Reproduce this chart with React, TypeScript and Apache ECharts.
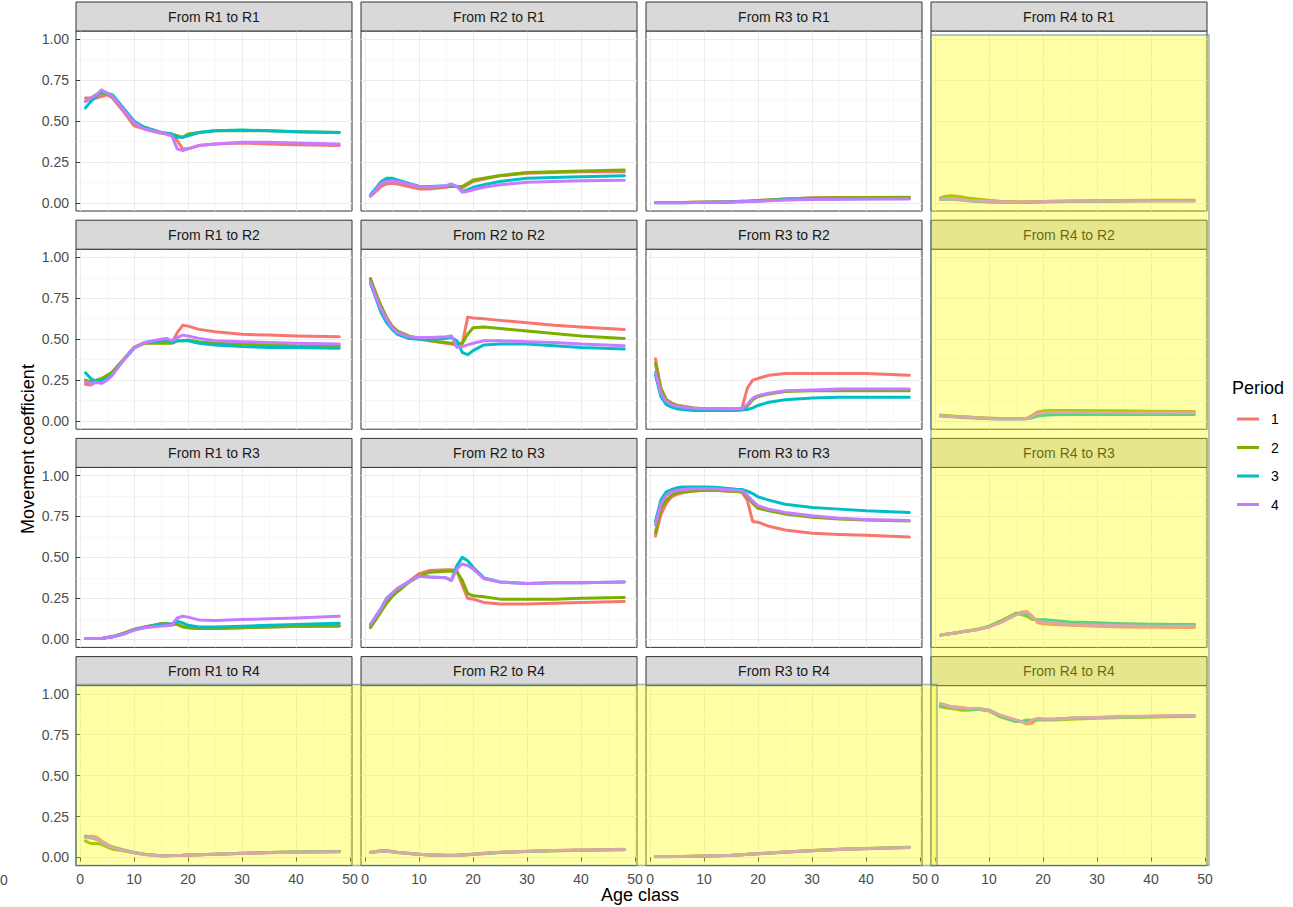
import React, { useEffect, useRef } from 'react';
import * as echarts from 'echarts';

// ---------------- data ----------------
const AGES = [1, 2, 3, 4, 5, 6, 8, 10, 12, 15, 16, 17, 18, 19, 20, 22, 25, 30, 35, 40, 48];
const REGIONS = ['R1', 'R2', 'R3', 'R4'];
const PERIODS = ['1', '2', '3', '4'];
const PERIOD_COLORS = ['#F8766D', '#7CAE00', '#00BFC4', '#C77CFF'];
const X_TICKS = [0, 10, 20, 30, 40, 50];
const Y_TICKS = [0, 0.25, 0.5, 0.75, 1];

// each panel: [period 1, period 2, period 3, period 4], values at AGES
const fromR1toR1 = [
  [0.64, 0.64, 0.64, 0.65, 0.66, 0.64, 0.56, 0.47, 0.45, 0.425, 0.42, 0.41, 0.38, 0.33, 0.33, 0.35, 0.36, 0.365, 0.36, 0.355, 0.35],
  [0.62, 0.64, 0.66, 0.67, 0.665, 0.65, 0.57, 0.49, 0.46, 0.43, 0.425, 0.42, 0.41, 0.40, 0.42, 0.43, 0.44, 0.44, 0.44, 0.435, 0.43],
  [0.58, 0.62, 0.65, 0.68, 0.67, 0.66, 0.58, 0.50, 0.46, 0.43, 0.425, 0.42, 0.40, 0.40, 0.41, 0.43, 0.44, 0.445, 0.44, 0.435, 0.43],
  [0.62, 0.64, 0.66, 0.69, 0.67, 0.65, 0.57, 0.49, 0.45, 0.43, 0.42, 0.41, 0.33, 0.32, 0.33, 0.35, 0.36, 0.37, 0.37, 0.365, 0.36],
];
const fromR2toR1 = [
  [0.04, 0.07, 0.10, 0.115, 0.12, 0.115, 0.10, 0.085, 0.085, 0.095, 0.10, 0.10, 0.09, 0.11, 0.13, 0.145, 0.165, 0.18, 0.185, 0.19, 0.19],
  [0.045, 0.08, 0.12, 0.135, 0.14, 0.135, 0.115, 0.10, 0.095, 0.10, 0.10, 0.10, 0.10, 0.12, 0.14, 0.15, 0.167, 0.185, 0.19, 0.195, 0.20],
  [0.05, 0.09, 0.13, 0.15, 0.15, 0.14, 0.12, 0.10, 0.10, 0.105, 0.11, 0.10, 0.07, 0.08, 0.095, 0.11, 0.13, 0.15, 0.155, 0.16, 0.165],
  [0.045, 0.08, 0.12, 0.13, 0.135, 0.13, 0.115, 0.10, 0.095, 0.105, 0.115, 0.10, 0.065, 0.07, 0.08, 0.095, 0.11, 0.125, 0.13, 0.135, 0.138],
];
const fromR3toR1 = [
  [0.002, 0.002, 0.002, 0.002, 0.002, 0.002, 0.003, 0.004, 0.005, 0.007, 0.008, 0.009, 0.01, 0.012, 0.014, 0.018, 0.024, 0.03, 0.032, 0.033, 0.034],
  [0.002, 0.002, 0.002, 0.002, 0.002, 0.002, 0.003, 0.004, 0.005, 0.007, 0.008, 0.009, 0.01, 0.012, 0.014, 0.018, 0.024, 0.029, 0.031, 0.032, 0.033],
  [0.001, 0.001, 0.001, 0.001, 0.001, 0.001, 0.002, 0.003, 0.004, 0.005, 0.006, 0.007, 0.008, 0.009, 0.011, 0.014, 0.018, 0.022, 0.024, 0.025, 0.026],
  [0.001, 0.001, 0.001, 0.001, 0.001, 0.001, 0.002, 0.003, 0.004, 0.005, 0.006, 0.007, 0.008, 0.009, 0.01, 0.013, 0.017, 0.02, 0.022, 0.023, 0.024],
];
const fromR4toR1 = [
  [0.02, 0.025, 0.025, 0.02, 0.018, 0.015, 0.01, 0.007, 0.005, 0.004, 0.004, 0.004, 0.005, 0.006, 0.007, 0.008, 0.009, 0.01, 0.011, 0.012, 0.012],
  [0.03, 0.04, 0.043, 0.04, 0.035, 0.03, 0.022, 0.015, 0.01, 0.007, 0.006, 0.006, 0.006, 0.007, 0.008, 0.009, 0.011, 0.013, 0.014, 0.015, 0.015],
  [0.02, 0.022, 0.022, 0.02, 0.017, 0.013, 0.008, 0.005, 0.003, 0.002, 0.002, 0.002, 0.003, 0.004, 0.005, 0.006, 0.008, 0.01, 0.011, 0.012, 0.012],
  [0.02, 0.025, 0.025, 0.022, 0.019, 0.016, 0.011, 0.008, 0.006, 0.005, 0.005, 0.005, 0.006, 0.007, 0.008, 0.009, 0.01, 0.011, 0.012, 0.013, 0.013],
];
const fromR1toR2 = [
  [0.225, 0.22, 0.24, 0.255, 0.275, 0.30, 0.375, 0.45, 0.48, 0.485, 0.485, 0.48, 0.54, 0.585, 0.58, 0.56, 0.545, 0.53, 0.525, 0.52, 0.515],
  [0.25, 0.24, 0.25, 0.26, 0.28, 0.30, 0.375, 0.45, 0.475, 0.475, 0.475, 0.475, 0.49, 0.49, 0.495, 0.485, 0.475, 0.47, 0.465, 0.46, 0.458],
  [0.295, 0.26, 0.24, 0.245, 0.26, 0.285, 0.37, 0.445, 0.48, 0.49, 0.495, 0.48, 0.49, 0.49, 0.49, 0.475, 0.465, 0.455, 0.45, 0.45, 0.445],
  [0.24, 0.23, 0.235, 0.23, 0.25, 0.28, 0.37, 0.445, 0.48, 0.50, 0.505, 0.49, 0.51, 0.525, 0.52, 0.505, 0.49, 0.485, 0.48, 0.475, 0.47],
];
const fromR2toR2 = [
  [0.87, 0.78, 0.70, 0.63, 0.58, 0.55, 0.52, 0.50, 0.49, 0.475, 0.47, 0.465, 0.47, 0.635, 0.63, 0.625, 0.615, 0.60, 0.585, 0.575, 0.56],
  [0.87, 0.78, 0.70, 0.63, 0.58, 0.55, 0.52, 0.505, 0.49, 0.48, 0.475, 0.475, 0.475, 0.53, 0.57, 0.575, 0.565, 0.55, 0.535, 0.52, 0.505],
  [0.84, 0.75, 0.66, 0.60, 0.56, 0.53, 0.505, 0.50, 0.50, 0.505, 0.51, 0.49, 0.42, 0.405, 0.43, 0.465, 0.47, 0.47, 0.46, 0.45, 0.44],
  [0.85, 0.76, 0.68, 0.62, 0.57, 0.54, 0.515, 0.51, 0.51, 0.515, 0.52, 0.45, 0.455, 0.465, 0.475, 0.49, 0.49, 0.485, 0.48, 0.47, 0.46],
];
const fromR3toR2 = [
  [0.38, 0.20, 0.13, 0.11, 0.095, 0.09, 0.08, 0.075, 0.075, 0.073, 0.073, 0.075, 0.20, 0.25, 0.26, 0.28, 0.29, 0.29, 0.29, 0.29, 0.28],
  [0.35, 0.20, 0.13, 0.11, 0.095, 0.09, 0.08, 0.075, 0.075, 0.073, 0.073, 0.075, 0.09, 0.13, 0.15, 0.165, 0.18, 0.185, 0.185, 0.185, 0.185],
  [0.28, 0.15, 0.10, 0.085, 0.075, 0.07, 0.065, 0.065, 0.065, 0.065, 0.065, 0.068, 0.07, 0.08, 0.095, 0.115, 0.13, 0.14, 0.145, 0.145, 0.145],
  [0.30, 0.17, 0.12, 0.10, 0.09, 0.085, 0.078, 0.075, 0.075, 0.073, 0.073, 0.075, 0.10, 0.14, 0.155, 0.17, 0.185, 0.19, 0.195, 0.195, 0.195],
];
const fromR4toR2 = [
  [0.035, 0.033, 0.03, 0.028, 0.026, 0.024, 0.02, 0.017, 0.015, 0.015, 0.015, 0.017, 0.035, 0.055, 0.062, 0.065, 0.064, 0.063, 0.062, 0.06, 0.058],
  [0.035, 0.033, 0.03, 0.028, 0.026, 0.024, 0.02, 0.017, 0.015, 0.015, 0.015, 0.016, 0.03, 0.05, 0.058, 0.062, 0.062, 0.06, 0.058, 0.056, 0.055],
  [0.03, 0.028, 0.026, 0.024, 0.022, 0.02, 0.017, 0.014, 0.013, 0.013, 0.013, 0.014, 0.02, 0.03, 0.035, 0.038, 0.04, 0.04, 0.04, 0.04, 0.04],
  [0.033, 0.031, 0.028, 0.026, 0.024, 0.022, 0.018, 0.015, 0.014, 0.014, 0.014, 0.015, 0.028, 0.045, 0.05, 0.053, 0.053, 0.052, 0.051, 0.05, 0.05],
];
const fromR1toR3 = [
  [0.005, 0.005, 0.004, 0.005, 0.01, 0.015, 0.035, 0.06, 0.075, 0.095, 0.095, 0.09, 0.09, 0.08, 0.072, 0.066, 0.065, 0.07, 0.075, 0.078, 0.08],
  [0.005, 0.005, 0.004, 0.005, 0.01, 0.015, 0.035, 0.06, 0.075, 0.095, 0.095, 0.09, 0.09, 0.075, 0.07, 0.065, 0.065, 0.07, 0.075, 0.08, 0.082],
  [0.005, 0.005, 0.004, 0.005, 0.01, 0.015, 0.033, 0.058, 0.073, 0.09, 0.093, 0.095, 0.11, 0.10, 0.085, 0.075, 0.075, 0.08, 0.085, 0.09, 0.098],
  [0.005, 0.005, 0.004, 0.005, 0.01, 0.014, 0.03, 0.055, 0.07, 0.08, 0.083, 0.085, 0.13, 0.14, 0.135, 0.118, 0.115, 0.12, 0.125, 0.13, 0.14],
];
const fromR2toR3 = [
  [0.08, 0.13, 0.18, 0.23, 0.27, 0.30, 0.35, 0.40, 0.42, 0.425, 0.425, 0.42, 0.33, 0.25, 0.245, 0.225, 0.215, 0.215, 0.22, 0.225, 0.23],
  [0.07, 0.12, 0.17, 0.22, 0.26, 0.29, 0.345, 0.385, 0.41, 0.415, 0.415, 0.41, 0.36, 0.28, 0.265, 0.26, 0.245, 0.245, 0.245, 0.25, 0.255],
  [0.09, 0.14, 0.19, 0.25, 0.28, 0.31, 0.35, 0.385, 0.38, 0.375, 0.36, 0.45, 0.50, 0.48, 0.44, 0.375, 0.35, 0.34, 0.345, 0.345, 0.35],
  [0.09, 0.14, 0.19, 0.25, 0.28, 0.31, 0.35, 0.385, 0.38, 0.375, 0.36, 0.43, 0.46, 0.45, 0.43, 0.37, 0.35, 0.34, 0.345, 0.345, 0.35],
];
const fromR3toR3 = [
  [0.63, 0.76, 0.83, 0.87, 0.885, 0.895, 0.905, 0.91, 0.91, 0.905, 0.903, 0.90, 0.85, 0.72, 0.715, 0.69, 0.667, 0.648, 0.64, 0.635, 0.625],
  [0.65, 0.80, 0.85, 0.88, 0.895, 0.90, 0.905, 0.91, 0.91, 0.905, 0.903, 0.90, 0.87, 0.83, 0.80, 0.785, 0.765, 0.745, 0.735, 0.728, 0.722],
  [0.72, 0.85, 0.90, 0.915, 0.925, 0.93, 0.93, 0.93, 0.928, 0.92, 0.917, 0.915, 0.905, 0.89, 0.87, 0.85, 0.825, 0.805, 0.795, 0.785, 0.775],
  [0.70, 0.83, 0.88, 0.90, 0.91, 0.915, 0.92, 0.92, 0.92, 0.912, 0.91, 0.908, 0.88, 0.845, 0.815, 0.795, 0.775, 0.755, 0.74, 0.732, 0.725],
];
const fromR4toR3 = [
  [0.025, 0.03, 0.035, 0.04, 0.045, 0.05, 0.06, 0.075, 0.10, 0.15, 0.165, 0.17, 0.14, 0.10, 0.095, 0.09, 0.085, 0.08, 0.075, 0.073, 0.072],
  [0.025, 0.03, 0.035, 0.04, 0.045, 0.05, 0.062, 0.08, 0.11, 0.16, 0.15, 0.14, 0.12, 0.12, 0.115, 0.11, 0.10, 0.095, 0.092, 0.09, 0.09],
  [0.025, 0.03, 0.035, 0.04, 0.045, 0.05, 0.06, 0.078, 0.105, 0.155, 0.16, 0.15, 0.13, 0.115, 0.12, 0.115, 0.105, 0.10, 0.095, 0.092, 0.09],
  [0.025, 0.03, 0.035, 0.04, 0.045, 0.05, 0.06, 0.075, 0.10, 0.15, 0.16, 0.165, 0.135, 0.11, 0.105, 0.10, 0.09, 0.085, 0.082, 0.08, 0.08],
];
const fromR1toR4 = [
  [0.125, 0.13, 0.125, 0.10, 0.08, 0.065, 0.045, 0.03, 0.02, 0.01, 0.01, 0.011, 0.012, 0.013, 0.015, 0.017, 0.02, 0.025, 0.03, 0.033, 0.035],
  [0.10, 0.085, 0.085, 0.08, 0.065, 0.05, 0.04, 0.028, 0.018, 0.01, 0.01, 0.011, 0.012, 0.013, 0.015, 0.017, 0.02, 0.025, 0.03, 0.033, 0.036],
  [0.13, 0.12, 0.11, 0.095, 0.075, 0.06, 0.045, 0.03, 0.02, 0.01, 0.01, 0.011, 0.012, 0.013, 0.015, 0.017, 0.02, 0.025, 0.03, 0.033, 0.036],
  [0.12, 0.12, 0.115, 0.095, 0.075, 0.06, 0.042, 0.028, 0.018, 0.009, 0.009, 0.01, 0.011, 0.012, 0.014, 0.016, 0.019, 0.024, 0.028, 0.031, 0.034],
];
const fromR2toR4 = [
  [0.03, 0.035, 0.04, 0.04, 0.035, 0.03, 0.025, 0.02, 0.015, 0.013, 0.013, 0.014, 0.016, 0.018, 0.02, 0.025, 0.032, 0.038, 0.043, 0.046, 0.05],
  [0.032, 0.037, 0.042, 0.042, 0.037, 0.032, 0.026, 0.02, 0.016, 0.013, 0.013, 0.014, 0.016, 0.018, 0.02, 0.025, 0.03, 0.036, 0.041, 0.044, 0.048],
  [0.03, 0.035, 0.038, 0.038, 0.034, 0.03, 0.024, 0.019, 0.015, 0.012, 0.012, 0.013, 0.015, 0.017, 0.019, 0.023, 0.03, 0.036, 0.04, 0.044, 0.047],
  [0.03, 0.034, 0.038, 0.038, 0.034, 0.03, 0.024, 0.019, 0.015, 0.012, 0.012, 0.013, 0.015, 0.017, 0.019, 0.024, 0.031, 0.037, 0.042, 0.045, 0.049],
];
const fromR3toR4 = [
  [0.005, 0.005, 0.005, 0.005, 0.006, 0.006, 0.007, 0.008, 0.01, 0.013, 0.015, 0.017, 0.019, 0.021, 0.023, 0.027, 0.033, 0.042, 0.05, 0.055, 0.062],
  [0.005, 0.005, 0.005, 0.005, 0.006, 0.006, 0.007, 0.008, 0.01, 0.013, 0.015, 0.017, 0.019, 0.021, 0.023, 0.027, 0.033, 0.042, 0.05, 0.055, 0.062],
  [0.004, 0.004, 0.004, 0.004, 0.005, 0.005, 0.006, 0.007, 0.009, 0.012, 0.014, 0.016, 0.018, 0.02, 0.022, 0.026, 0.032, 0.04, 0.048, 0.053, 0.06],
  [0.005, 0.005, 0.005, 0.005, 0.006, 0.006, 0.007, 0.008, 0.01, 0.013, 0.015, 0.017, 0.019, 0.021, 0.023, 0.027, 0.033, 0.041, 0.049, 0.055, 0.061],
];
const fromR4toR4 = [
  [0.94, 0.93, 0.92, 0.92, 0.915, 0.91, 0.91, 0.90, 0.87, 0.835, 0.83, 0.815, 0.82, 0.85, 0.845, 0.845, 0.85, 0.855, 0.86, 0.862, 0.868],
  [0.92, 0.915, 0.91, 0.905, 0.90, 0.90, 0.905, 0.895, 0.86, 0.83, 0.83, 0.84, 0.835, 0.84, 0.84, 0.84, 0.845, 0.85, 0.855, 0.858, 0.862],
  [0.93, 0.925, 0.915, 0.91, 0.91, 0.905, 0.905, 0.90, 0.865, 0.83, 0.83, 0.835, 0.84, 0.845, 0.845, 0.845, 0.85, 0.855, 0.858, 0.86, 0.865],
  [0.94, 0.93, 0.92, 0.915, 0.915, 0.91, 0.91, 0.90, 0.87, 0.84, 0.83, 0.82, 0.84, 0.85, 0.845, 0.845, 0.85, 0.855, 0.86, 0.862, 0.868],
];

// rows = destination region, columns = origin region
const PANEL_DATA = [
  [fromR1toR1, fromR2toR1, fromR3toR1, fromR4toR1],
  [fromR1toR2, fromR2toR2, fromR3toR2, fromR4toR2],
  [fromR1toR3, fromR2toR3, fromR3toR3, fromR4toR3],
  [fromR1toR4, fromR2toR4, fromR3toR4, fromR4toR4],
];

// ---------------- layout ----------------
const W = 1293;
const H = 907;
const PANEL_LEFT0 = 76;
const PANEL_DX = 285;
const PANEL_W = 276;
const PANEL_TOP0 = 31;
const PANEL_DY = 218.2;
const PANEL_H = 180;
const STRIP_H = 29;
const FONT = '"Liberation Sans", Arial, Helvetica, sans-serif';

const colLeft = (c: number) => PANEL_LEFT0 + c * PANEL_DX;
const rowTop = (r: number) => PANEL_TOP0 + r * PANEL_DY;

function buildOption() {
  const grid: any[] = [];
  const xAxis: any[] = [];
  const yAxis: any[] = [];
  const series: any[] = [];
  const graphic: any[] = [];

  for (let r = 0; r < 4; r++) {
    for (let c = 0; c < 4; c++) {
      const idx = r * 4 + c;
      const left = colLeft(c);
      const top = rowTop(r);
      grid.push({
        left,
        top,
        width: PANEL_W,
        height: PANEL_H,
        show: true,
        backgroundColor: '#FFFFFF',
        borderColor: '#333333',
        borderWidth: 1,
      });
      const bottomRow = r === 3;
      const firstCol = c === 0;
      xAxis.push({
        type: 'value',
        gridIndex: idx,
        min: -0.75,
        max: 50.35,
        minInterval: 10,
        maxInterval: 10,
        axisLine: { show: false },
        axisTick: {
          show: bottomRow,
          length: 4,
          customValues: X_TICKS,
          lineStyle: { color: '#333333', width: 1 },
        },
        axisLabel: {
          show: bottomRow,
          customValues: X_TICKS,
          margin: 6,
          fontSize: 14,
          fontFamily: FONT,
          color: '#4D4D4D',
        },
        splitLine: { show: true, lineStyle: { color: '#EBEBEB', width: 1 } },
        minorTick: { show: false, splitNumber: 2 },
        minorSplitLine: { show: true, lineStyle: { color: '#F4F4F4', width: 0.6 } },
      });
      yAxis.push({
        type: 'value',
        gridIndex: idx,
        min: -0.05,
        max: 1.05,
        minInterval: 0.25,
        maxInterval: 0.25,
        axisLine: { show: false },
        axisTick: {
          show: firstCol,
          length: 4,
          customValues: Y_TICKS,
          lineStyle: { color: '#333333', width: 1 },
        },
        axisLabel: {
          show: firstCol,
          customValues: Y_TICKS,
          margin: 7,
          fontSize: 14,
          fontFamily: FONT,
          color: '#4D4D4D',
          formatter: (v: number) => v.toFixed(2),
        },
        splitLine: { show: true, lineStyle: { color: '#EBEBEB', width: 1 } },
        minorTick: { show: false, splitNumber: 2 },
        minorSplitLine: { show: true, lineStyle: { color: '#F4F4F4', width: 0.6 } },
      });

      const panel = PANEL_DATA[r][c];
      panel.forEach((vals, p) => {
        series.push({
          type: 'line',
          name: PERIODS[p],
          xAxisIndex: idx,
          yAxisIndex: idx,
          data: AGES.map((a, i) => [a, vals[i]]),
          showSymbol: false,
          symbol: 'none',
          silent: true,
          z: 2 + p,
          lineStyle: { color: PERIOD_COLORS[p], width: 3, cap: 'round', join: 'round' },
          itemStyle: { color: PERIOD_COLORS[p] },
        });
      });

      // facet strip
      graphic.push({
        type: 'rect',
        z: 10,
        shape: { x: left, y: top - STRIP_H, width: PANEL_W, height: STRIP_H },
        style: { fill: '#D9D9D9', stroke: '#333333', lineWidth: 1 },
      });
      graphic.push({
        type: 'text',
        z: 11,
        x: left + PANEL_W / 2,
        y: top - STRIP_H / 2,
        style: {
          text: `From ${REGIONS[c]} to ${REGIONS[r]}`,
          fill: '#1A1A1A',
          font: `14px ${FONT}`,
          align: 'center',
          verticalAlign: 'middle',
        },
      });
    }
  }

  // highlight overlays: column "From R4" and row "to R4"
  const overlayStyle = {
    fill: 'rgba(255, 255, 0, 0.34)',
    stroke: 'rgba(70, 120, 170, 0.55)',
    lineWidth: 1.5,
  };
  graphic.push({
    type: 'rect',
    z: 100,
    shape: {
      x: colLeft(3),
      y: rowTop(0) + 4,
      width: PANEL_W + 2,
      height: rowTop(3) + PANEL_H - rowTop(0) - 4,
    },
    style: overlayStyle,
  });
  graphic.push({
    type: 'rect',
    z: 100,
    shape: {
      x: colLeft(0),
      y: rowTop(3) - 1,
      width: colLeft(3) + 6 - colLeft(0),
      height: PANEL_H + 1,
    },
    style: overlayStyle,
  });

  // axis titles
  graphic.push({
    type: 'text',
    z: 20,
    x: 28,
    y: 449,
    rotation: Math.PI / 2,
    style: {
      text: 'Movement coefficient',
      fill: '#000000',
      font: `18px ${FONT}`,
      align: 'center',
      verticalAlign: 'middle',
    },
  });
  graphic.push({
    type: 'text',
    z: 20,
    x: 640,
    y: 886,
    style: {
      text: 'Age class',
      fill: '#000000',
      font: `18px ${FONT}`,
      align: 'center',
      verticalAlign: 'top',
    },
  });
  // stray tick label at the left edge, as in the reference
  graphic.push({
    type: 'text',
    z: 20,
    x: 0,
    y: 880,
    style: {
      text: '0',
      fill: '#4D4D4D',
      font: `14px ${FONT}`,
      align: 'left',
      verticalAlign: 'middle',
    },
  });

  // legend
  graphic.push({
    type: 'text',
    z: 20,
    x: 1232,
    y: 388,
    style: {
      text: 'Period',
      fill: '#000000',
      font: `18px ${FONT}`,
      align: 'left',
      verticalAlign: 'middle',
    },
  });
  PERIODS.forEach((p, i) => {
    const y = 419 + i * 28.5;
    graphic.push({
      type: 'line',
      z: 20,
      shape: { x1: 1237, y1: y, x2: 1259, y2: y },
      style: { stroke: PERIOD_COLORS[i], lineWidth: 3 },
    });
    graphic.push({
      type: 'text',
      z: 20,
      x: 1271,
      y,
      style: {
        text: p,
        fill: '#000000',
        font: `14px ${FONT}`,
        align: 'left',
        verticalAlign: 'middle',
      },
    });
  });

  return {
    animation: false,
    backgroundColor: '#FFFFFF',
    grid,
    xAxis,
    yAxis,
    series,
    graphic,
  };
}

export default function App() {
  const ref = useRef<HTMLDivElement>(null);
  useEffect(() => {
    if (!ref.current) return;
    const chart = echarts.init(ref.current, undefined, { renderer: 'svg' });
    chart.setOption(buildOption() as any);
    return () => chart.dispose();
  }, []);
  return (
    <div
      ref={ref}
      style={{ position: 'fixed', left: 0, top: 0, width: W, height: H, background: '#FFFFFF' }}
    />
  );
}
